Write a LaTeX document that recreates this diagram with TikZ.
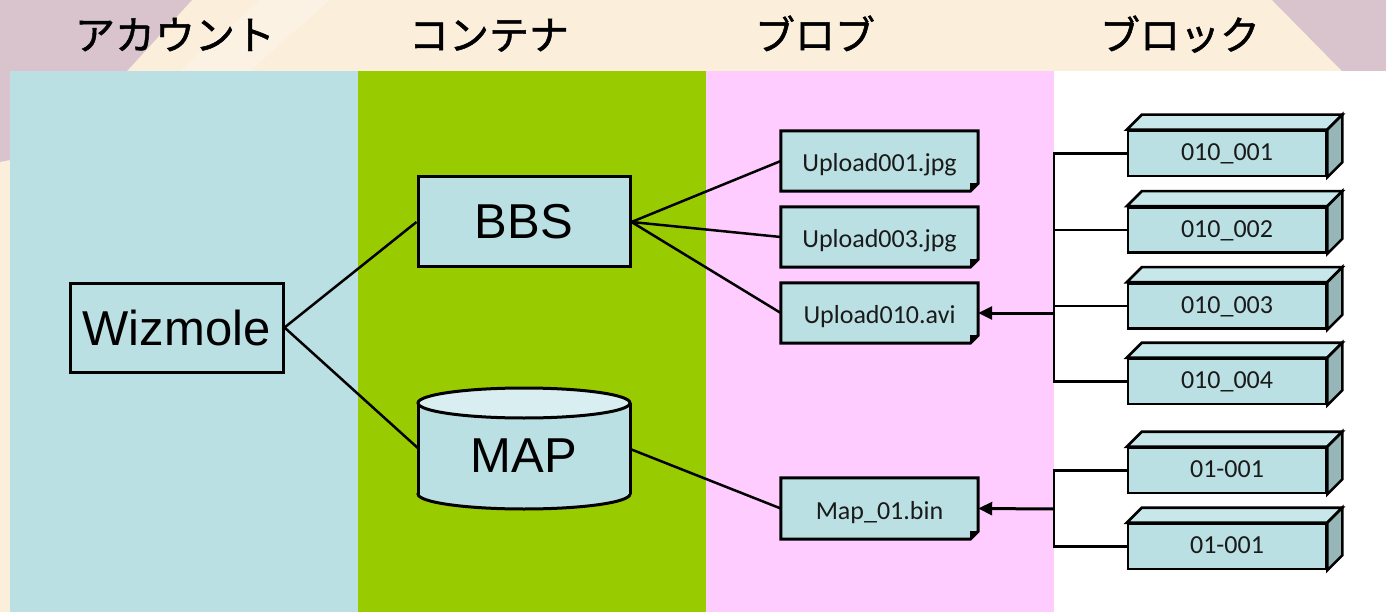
\documentclass[tikz,border=0pt]{standalone}
\usepackage{fontspec}
\setmainfont{Carlito}
\newfontfamily\arialf{Liberation Sans}
\newfontfamily\jpf[FakeBold=1.2]{Noto Sans CJK JP}
\usetikzlibrary{arrows.meta}
\definecolor{beige}{HTML}{FBEEDA}
\definecolor{beigelt}{HTML}{FCF2E4}
\definecolor{mauve}{HTML}{D9C4CD}
\definecolor{acct}{HTML}{BAE0E3}
\definecolor{cont}{HTML}{99CC00}
\definecolor{blobc}{HTML}{FFCCFF}
\definecolor{boxfill}{HTML}{BAE0E3}
\definecolor{topface}{HTML}{C8E7EA}
\definecolor{sideface}{HTML}{96B6B7}
\definecolor{cyltop}{HTML}{D9EEF1}
\definecolor{txt}{HTML}{1A1A1A}
\begin{document}
\begin{tikzpicture}[x=1pt,y=-1pt,
 hdr/.style={font=\jpf\fontsize{40}{44}\selectfont, text height=29.6pt, text depth=0pt, inner sep=0pt},
 bigbox/.style={draw, line width=3pt, fill=boxfill, minimum width=212pt, minimum height=90pt, inner sep=0pt, font=\arialf\fontsize{49}{52}\selectfont},
 filebox/.style={fill=boxfill, minimum width=197pt, minimum height=60pt, inner sep=0pt, font=\fontsize{26}{30}\selectfont, text=txt, text height=21pt, text depth=0pt},
 blockbox/.style={draw, line width=2.6pt, fill=boxfill, minimum width=198pt, minimum height=45pt, inner sep=0pt, font=\fontsize{26}{30}\selectfont, text=txt, text height=14.4pt, text depth=0pt},
 conn/.style={line width=2.5pt},
 arr/.style={line width=3pt, -{Triangle[length=14pt,width=13pt]}}]
\useasboundingbox (0,0) rectangle (1386,612);
% background
\fill[beige] (0,0) rectangle (1386,612);
\fill[beigelt] (260,0) -- (330,0) -- (250,71) -- (180,71) -- cycle;
\fill[mauve] (0,0) -- (192,0) -- (127,71) -- (10,71) -- (10,160) -- (0,162) -- cycle;
\fill[mauve] (1272,0) -- (1386,0) -- (1386,71) -- (1342,71) -- cycle;
\fill[acct] (10,71) rectangle (358,612);
\fill[cont] (358,71) rectangle (706,612);
\fill[blobc] (706,71) rectangle (1054,612);
\fill[white] (1054,71) rectangle (1386,612);
% headers
\node[hdr] (h1) at (175,35) {アカウント};
\node[hdr] (h2) at (489,35) {コンテナ};
\node[hdr] (h3) at (815,35) {ブロブ};
\node[hdr] (h4) at (1180,35) {ブロック};
% account / container
\node[bigbox, minimum width=213pt, minimum height=89pt] (wiz) at (176.5,327.5) {Wizmole};
\node[bigbox] (bbs) at (524,222) {BBS};
% cylinder
\filldraw[fill=boxfill, line width=3pt] (524,494) ellipse [x radius=106, y radius=15];
\fill[boxfill] (418,403) rectangle (630,494);
\draw[line width=3pt] (418,403) -- (418,494) (630,403) -- (630,494);
\filldraw[fill=cyltop, line width=3pt] (524,403) ellipse [x radius=106, y radius=15];
\node[font=\arialf\fontsize{49}{52}\selectfont, minimum width=212pt, minimum height=60pt, inner sep=0pt] (map) at (524,456) {MAP};
% files
\node[filebox] (f1) at (879.5,161) {Upload001.jpg};
\node[filebox] (f2) at (879.5,237) {Upload003.jpg};
\node[filebox] (f3) at (879.5,313) {Upload010.avi};
\node[filebox, minimum height=61pt] (f4) at (879.5,508.5) {Map\_01.bin};
\foreach \n in {f1,f2,f3,f4}{
 \fill[blobc] (\n.south east) -- ([yshift=8pt]\n.south east) -- ([xshift=-8pt]\n.south east) -- cycle;
 \draw[line width=3pt, line join=miter] (\n.south west) -- (\n.north west) -- (\n.north east) -- ([yshift=8pt]\n.south east) -- ([xshift=-8pt]\n.south east) -- cycle;
 \fill ([yshift=8pt]\n.south east) -- ([xshift=-8pt]\n.south east) -- ([xshift=-8pt,yshift=8pt]\n.south east) -- cycle;
}
% blocks
\node[blockbox] (b1) at (1227,153.5) {010\_001};
\node[blockbox] (b2) at (1227,230) {010\_002};
\node[blockbox] (b3) at (1227,306) {010\_003};
\node[blockbox] (b4) at (1227,381.5) {010\_004};
\node[blockbox] (c1) at (1227,470.5) {01-001};
\node[blockbox] (c2) at (1227,546.5) {01-001};
\foreach \n in {b1,b2,b3,b4,c1,c2}{
 \filldraw[fill=topface, line width=2.6pt, line join=miter] (\n.north west) -- ([xshift=15pt,yshift=15pt]\n.north west) -- ([xshift=15pt,yshift=15pt]\n.north east) -- (\n.north east) -- cycle;
 \filldraw[fill=sideface, line width=2.6pt, line join=miter] (\n.north east) -- ([xshift=15pt,yshift=15pt]\n.north east) -- ([xshift=15pt,yshift=15pt]\n.south east) -- (\n.south east) -- cycle;
}
% connectors
\draw[conn] (wiz.east) -- (bbs.west);
\draw[conn] (wiz.east) -- ([yshift=8pt]map.west);
\draw[conn] (bbs.east) -- (f1.west);
\draw[conn] (bbs.east) -- (f2.west);
\draw[conn] (bbs.east) -- (f3.west);
\draw[conn] ([yshift=7pt]map.east) -- (f4.west);
\coordinate (j1) at (1054,313);
\coordinate (j2) at (1054,509);
\draw[conn, line cap=rect] (b1.west) -- (b1.west -| j1) -- (b4.west -| j1) -- (b4.west);
\draw[conn] (b2.west) -- (b2.west -| j1);
\draw[conn] (b3.west) -- (b3.west -| j1);
\draw[conn] (c1.west) -- (c1.west -| j2) -- (c2.west -| j2) -- (c2.west);
\draw[arr] (j1) -- (f3.east);
\draw[arr] (j2) -- (f4.east);
\end{tikzpicture}
\end{document}
